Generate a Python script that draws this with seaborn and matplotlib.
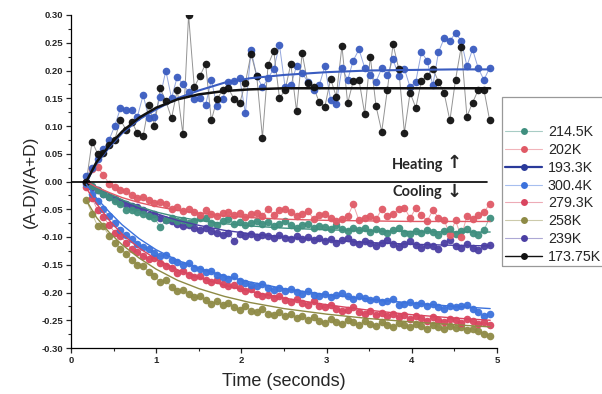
import matplotlib
matplotlib.use("Agg")
import matplotlib.pyplot as plt
import seaborn as sns
import numpy as np
import pandas as pd
from matplotlib.lines import Line2D
from matplotlib.patches import Rectangle

# ---------------- data ----------------
time_s = [0.180, 0.247, 0.313, 0.380, 0.447, 0.513, 0.580, 0.647, 0.713, 0.780,
          0.847, 0.913, 0.980, 1.047, 1.113, 1.180, 1.247, 1.313, 1.380, 1.447,
          1.513, 1.580, 1.647, 1.713, 1.780, 1.847, 1.913, 1.980, 2.047, 2.113,
          2.180, 2.247, 2.313, 2.380, 2.447, 2.513, 2.580, 2.647, 2.713, 2.780,
          2.847, 2.913, 2.980, 3.047, 3.113, 3.180, 3.247, 3.313, 3.380, 3.447,
          3.513, 3.580, 3.647, 3.713, 3.780, 3.847, 3.913, 3.980, 4.047, 4.113,
          4.180, 4.247, 4.313, 4.380, 4.447, 4.513, 4.580, 4.647, 4.713, 4.780,
          4.847, 4.913]

v_173_75K = [0.000, 0.072, 0.050, 0.052, 0.066, 0.075, 0.111, 0.093, 0.108, 0.087,
             0.082, 0.138, 0.100, 0.168, 0.145, 0.114, 0.165, 0.086, 0.300, 0.170,
             0.190, 0.212, 0.110, 0.148, 0.165, 0.168, 0.149, 0.141, 0.178, 0.230,
             0.190, 0.079, 0.210, 0.235, 0.150, 0.165, 0.212, 0.127, 0.231, 0.177,
             0.170, 0.143, 0.135, 0.185, 0.153, 0.244, 0.141, 0.181, 0.183, 0.122,
             0.225, 0.136, 0.090, 0.165, 0.247, 0.203, 0.088, 0.160, 0.133, 0.181,
             0.190, 0.203, 0.180, 0.159, 0.110, 0.183, 0.243, 0.117, 0.142, 0.165,
             0.165, 0.111]

v_193_3K = [0.010, 0.024, 0.040, 0.058, 0.075, 0.100, 0.132, 0.129, 0.129, 0.117,
            0.156, 0.114, 0.117, 0.153, 0.200, 0.150, 0.189, 0.175, 0.162, 0.148,
            0.150, 0.138, 0.183, 0.136, 0.148, 0.180, 0.181, 0.186, 0.123, 0.237,
            0.190, 0.170, 0.186, 0.203, 0.246, 0.170, 0.173, 0.208, 0.195, 0.180,
            0.165, 0.173, 0.208, 0.147, 0.140, 0.204, 0.183, 0.218, 0.238, 0.205,
            0.192, 0.180, 0.204, 0.192, 0.220, 0.190, 0.203, 0.170, 0.180, 0.233,
            0.218, 0.173, 0.233, 0.258, 0.254, 0.267, 0.254, 0.208, 0.238, 0.204,
            0.183, 0.205]

v_202K = [0.000, 0.022, 0.026, 0.012, -0.004, -0.010, -0.016, -0.017, -0.024, -0.030,
          -0.028, -0.033, -0.038, -0.037, -0.040, -0.049, -0.046, -0.053, -0.050, -0.055,
          -0.061, -0.052, -0.058, -0.063, -0.057, -0.055, -0.060, -0.057, -0.064, -0.059,
          -0.056, -0.062, -0.049, -0.060, -0.051, -0.050, -0.055, -0.062, -0.058, -0.054,
          -0.067, -0.061, -0.058, -0.066, -0.072, -0.068, -0.063, -0.041, -0.070, -0.066,
          -0.063, -0.068, -0.050, -0.062, -0.058, -0.050, -0.047, -0.066, -0.048, -0.060,
          -0.071, -0.052, -0.065, -0.069, -0.097, -0.070, -0.100, -0.062, -0.068, -0.060,
          -0.055, -0.041]

v_214_5K = [0.000, -0.008, -0.015, -0.022, -0.028, -0.035, -0.041, -0.052, -0.052, -0.055,
            -0.058, -0.062, -0.066, -0.082, -0.070, -0.065, -0.072, -0.069, -0.075, -0.071,
            -0.066, -0.065, -0.074, -0.078, -0.072, -0.068, -0.076, -0.073, -0.079, -0.075,
            -0.071, -0.077, -0.073, -0.080, -0.076, -0.071, -0.079, -0.084, -0.078, -0.076,
            -0.083, -0.080, -0.082, -0.086, -0.079, -0.085, -0.089, -0.083, -0.088, -0.084,
            -0.091, -0.086, -0.090, -0.093, -0.087, -0.084, -0.092, -0.095, -0.089, -0.093,
            -0.087, -0.091, -0.097, -0.090, -0.086, -0.094, -0.089, -0.085, -0.092, -0.096,
            -0.088, -0.065]

v_239K = [0.000, -0.010, -0.016, -0.022, -0.028, -0.031, -0.037, -0.040, -0.044, -0.046,
          -0.052, -0.061, -0.058, -0.066, -0.069, -0.072, -0.076, -0.080, -0.078, -0.084,
          -0.087, -0.083, -0.089, -0.092, -0.097, -0.093, -0.107, -0.095, -0.098, -0.094,
          -0.100, -0.096, -0.099, -0.102, -0.097, -0.101, -0.104, -0.099, -0.103, -0.100,
          -0.106, -0.102, -0.108, -0.104, -0.110, -0.106, -0.101, -0.109, -0.113, -0.107,
          -0.111, -0.116, -0.110, -0.105, -0.113, -0.118, -0.112, -0.108, -0.115, -0.120,
          -0.114, -0.117, -0.122, -0.110, -0.106, -0.116, -0.120, -0.113, -0.119, -0.123,
          -0.117, -0.114]

v_300_4K = [-0.005, -0.022, -0.035, -0.050, -0.062, -0.074, -0.088, -0.097, -0.104, -0.112,
            -0.118, -0.121, -0.128, -0.135, -0.132, -0.141, -0.145, -0.150, -0.147, -0.155,
            -0.158, -0.163, -0.161, -0.169, -0.172, -0.175, -0.171, -0.179, -0.183, -0.186,
            -0.189, -0.185, -0.192, -0.195, -0.191, -0.197, -0.194, -0.199, -0.202, -0.198,
            -0.204, -0.207, -0.203, -0.209, -0.205, -0.201, -0.207, -0.211, -0.206, -0.210,
            -0.214, -0.212, -0.217, -0.215, -0.212, -0.223, -0.220, -0.218, -0.222, -0.219,
            -0.224, -0.221, -0.226, -0.229, -0.224, -0.227, -0.225, -0.222, -0.230, -0.236,
            -0.242, -0.238]

v_279_3K = [-0.010, -0.030, -0.052, -0.064, -0.078, -0.092, -0.099, -0.110, -0.122, -0.127,
            -0.134, -0.140, -0.138, -0.147, -0.152, -0.156, -0.165, -0.161, -0.168, -0.172,
            -0.170, -0.177, -0.181, -0.178, -0.185, -0.189, -0.186, -0.192, -0.197, -0.194,
            -0.202, -0.207, -0.204, -0.210, -0.206, -0.213, -0.217, -0.212, -0.219, -0.222,
            -0.216, -0.224, -0.227, -0.223, -0.229, -0.234, -0.231, -0.226, -0.235, -0.239,
            -0.233, -0.241, -0.237, -0.243, -0.238, -0.245, -0.240, -0.248, -0.242, -0.246,
            -0.251, -0.244, -0.249, -0.253, -0.247, -0.250, -0.255, -0.248, -0.252, -0.257,
            -0.254, -0.258]

v_258K = [-0.034, -0.058, -0.080, -0.081, -0.098, -0.110, -0.121, -0.130, -0.141, -0.150,
          -0.152, -0.163, -0.170, -0.181, -0.178, -0.190, -0.198, -0.195, -0.203, -0.209,
          -0.206, -0.214, -0.220, -0.216, -0.223, -0.219, -0.227, -0.231, -0.224, -0.233,
          -0.236, -0.229, -0.238, -0.241, -0.235, -0.243, -0.239, -0.246, -0.242, -0.249,
          -0.244, -0.251, -0.255, -0.247, -0.253, -0.257, -0.250, -0.254, -0.259, -0.252,
          -0.256, -0.261, -0.254, -0.258, -0.262, -0.255, -0.259, -0.263, -0.257, -0.261,
          -0.265, -0.258, -0.262, -0.266, -0.260, -0.264, -0.262, -0.267, -0.265, -0.270,
          -0.274, -0.278]

# fitted curves, read at a few times
fit_t = [0.18, 0.30, 0.45, 0.60, 0.80, 1.00, 1.25, 1.50, 1.80, 2.10, 2.50, 3.00, 3.50, 4.00, 4.50, 4.92]
fit_173_75K = [0.000, 0.035, 0.065, 0.090, 0.115, 0.133, 0.148, 0.157, 0.163, 0.166, 0.168, 0.168, 0.168, 0.168, 0.168, 0.168]
fit_193_3K = [0.000, 0.032, 0.062, 0.087, 0.112, 0.130, 0.150, 0.164, 0.178, 0.186, 0.192, 0.197, 0.200, 0.201, 0.202, 0.202]
fit_202K = [0.000, -0.010, -0.020, -0.029, -0.038, -0.045, -0.052, -0.057, -0.062, -0.065, -0.068, -0.070, -0.071, -0.072, -0.072, -0.072]
fit_214_5K = [0.000, -0.010, -0.022, -0.033, -0.045, -0.055, -0.064, -0.070, -0.076, -0.080, -0.084, -0.087, -0.089, -0.090, -0.091, -0.091]
fit_239K = [0.000, -0.010, -0.022, -0.034, -0.047, -0.058, -0.070, -0.079, -0.088, -0.094, -0.100, -0.106, -0.110, -0.113, -0.115, -0.116]
fit_300_4K = [-0.005, -0.030, -0.055, -0.078, -0.103, -0.123, -0.142, -0.156, -0.170, -0.181, -0.193, -0.204, -0.212, -0.219, -0.225, -0.229]
fit_279_3K = [-0.012, -0.040, -0.070, -0.095, -0.120, -0.140, -0.159, -0.173, -0.187, -0.198, -0.210, -0.222, -0.232, -0.240, -0.246, -0.250]
fit_258K = [-0.034, -0.065, -0.092, -0.114, -0.138, -0.158, -0.178, -0.193, -0.207, -0.218, -0.229, -0.239, -0.247, -0.253, -0.258, -0.262]

labels = ["214.5K", "202K", "193.3K", "300.4K", "279.3K", "258K", "239K", "173.75K"]
colors = ["#3f8f7f", "#e05a66", "#3a5cc0", "#3c72dc", "#d9455f", "#8e8a45", "#4b3fa3", "#111111"]
y_ticks = [-0.30, -0.25, -0.20, -0.15, -0.10, -0.05, 0.00, 0.05, 0.10, 0.15, 0.20, 0.25, 0.30]
y_ticklabels = ["-0.30", "-0.25", "-0.20", "-0.15", "-0.10", "-0.05", "0.00",
                "0.05", "0.10", "0.15", "0.20", "0.25", "0.30"]
x_ticks = [0, 1, 2, 3, 4, 5]

series = {"214.5K": v_214_5K, "202K": v_202K, "193.3K": v_193_3K, "300.4K": v_300_4K,
          "279.3K": v_279_3K, "258K": v_258K, "239K": v_239K, "173.75K": v_173_75K}
fits = {"214.5K": fit_214_5K, "202K": fit_202K, "193.3K": fit_193_3K, "300.4K": fit_300_4K,
        "279.3K": fit_279_3K, "258K": fit_258K, "239K": fit_239K, "173.75K": fit_173_75K}

# ---------------- figure ----------------
sns.set_style("ticks")
plt.rcParams["font.family"] = ["Liberation Sans", "DejaVu Sans"]

fig = plt.figure(figsize=(6.02, 3.94), dpi=100)
ax = fig.add_axes([71 / 602, 46 / 394, 426 / 602, 333 / 394])

col = dict(zip(labels, colors))
draw_order = ["258K", "279.3K", "300.4K", "239K", "214.5K", "202K", "193.3K", "173.75K"]
for lab in draw_order:
    c = col[lab]
    df = pd.DataFrame({"t": time_s, "v": series[lab]})
    lc = "#888888" if lab == "173.75K" else c
    sns.lineplot(data=df, x="t", y="v", ax=ax, color=lc, lw=0.7,
                 alpha=0.55 if lab != "173.75K" else 0.9, estimator=None, sort=False)
    sns.scatterplot(data=df, x="t", y="v", ax=ax, color=c, s=30, linewidth=0,
                    alpha=0.95, zorder=3)
    dff = pd.DataFrame({"t": fit_t, "v": fits[lab]})
    lw = 1.8 if lab == "173.75K" else (1.5 if lab == "193.3K" else 1.0)
    sns.lineplot(data=dff, x="t", y="v", ax=ax, color=c, lw=lw, estimator=None,
                 sort=False, zorder=4)

ax.plot([0, 4.88], [0, 0], color="black", lw=1.2, zorder=5)

ax.set_xlim(0, 5)
ax.set_ylim(-0.30, 0.30)
ax.set_xticks(x_ticks)
ax.set_xticks([0.5, 1.5, 2.5, 3.5, 4.5], minor=True)
ax.set_yticks(y_ticks)
ax.set_yticks([-0.275, -0.225, -0.175, -0.125, -0.075, -0.025, 0.025, 0.075,
               0.125, 0.175, 0.225, 0.275], minor=True)
ax.set_xticklabels([str(v) for v in x_ticks])
ax.set_yticklabels(y_ticklabels)
for lbl in ax.get_xticklabels() + ax.get_yticklabels():
    lbl.set_fontweight("bold")
    lbl.set_fontsize(6.8)
ax.tick_params(which="major", direction="out", length=3.5, width=0.9, pad=2)
ax.tick_params(which="minor", direction="out", length=2, width=0.8)
sns.despine(ax=ax)
for s in ["left", "bottom"]:
    ax.spines[s].set_linewidth(0.9)
    ax.spines[s].set_color("black")

ax.set_xlabel("Time (seconds)", fontsize=13, labelpad=6)
ax.set_ylabel("(A-D)/(A+D)", fontsize=12.5, labelpad=3)

ax.text(3.77, 0.029, "Heating", fontsize=10.5, family=["Lato", "DejaVu Sans"],
        va="center", ha="left", fontweight="bold")
ax.text(4.5, 0.034, "\u2191", fontsize=13, family=["DejaVu Sans"], va="center",
        ha="center", fontweight="bold")
ax.text(3.77, -0.019, "Cooling", fontsize=10.5, family=["Lato", "DejaVu Sans"],
        va="center", ha="left", fontweight="bold")
ax.text(4.5, -0.019, "\u2193", fontsize=13, family=["DejaVu Sans"], va="center",
        ha="center", fontweight="bold")

# legend
handles = []
for lab in labels:
    c = col[lab]
    if lab == "193.3K":
        h = Line2D([], [], color="#2a3a9a", lw=1.6, marker="o", markersize=5,
                   markerfacecolor="#2a3a9a", markeredgewidth=0)
    elif lab == "173.75K":
        h = Line2D([], [], color="#111111", lw=1.0, marker="o", markersize=5,
                   markerfacecolor="#111111", markeredgewidth=0)
    else:
        h = (Line2D([], [], color=c, lw=0.8, alpha=0.45),
             Line2D([], [], color=c, lw=0, marker="o", markersize=5, markeredgewidth=0))
    handles.append(h)

fig.patches.append(Rectangle((502 / 602, (394 - 266) / 394), 110 / 602, 169 / 394,
                             transform=fig.transFigure, fill=False, edgecolor="#999999",
                             lw=0.9))
fig.legend(handles, labels, loc="upper left",
           bbox_to_anchor=(505 / 602, (394 - 125) / 394), frameon=False,
           fontsize=10.3, handlelength=2.6, handletextpad=0.4, labelspacing=0.27,
           borderpad=0, borderaxespad=0)

fig.savefig("out.png", dpi=100)
